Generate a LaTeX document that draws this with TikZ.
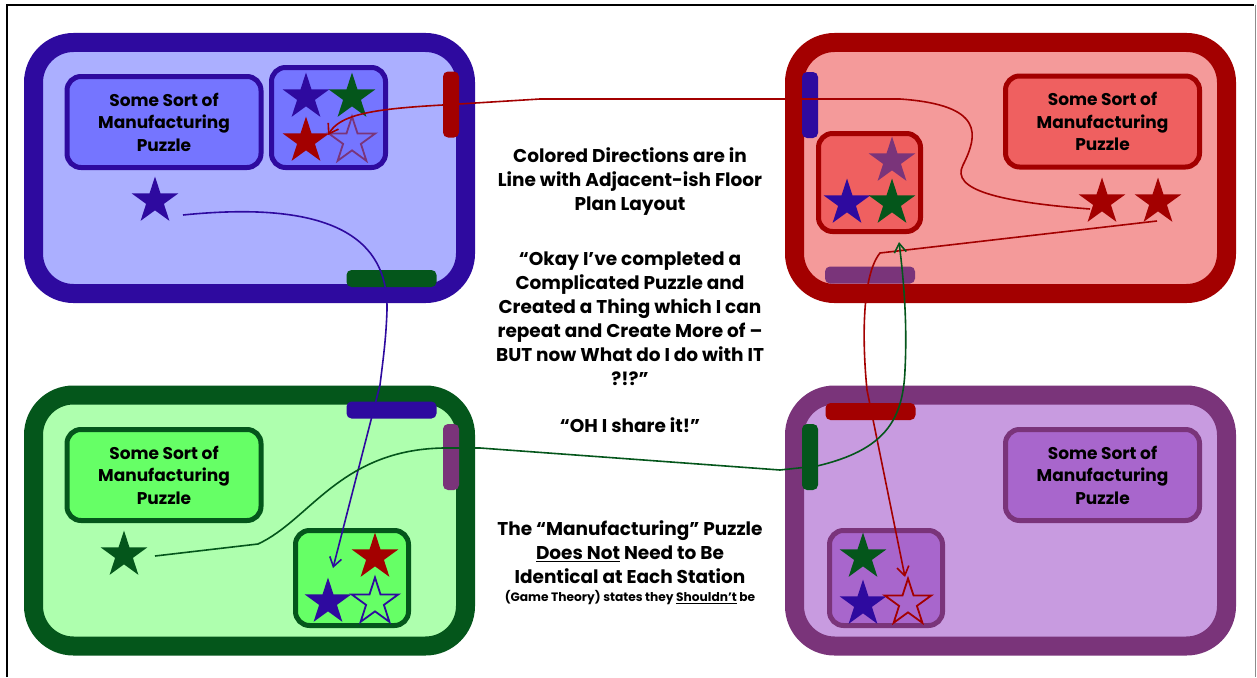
\documentclass[tikz,border=0pt]{standalone}
\usepackage{fontspec}
\setmainfont{Poppins}
\usetikzlibrary{shapes.geometric,arrows.meta}
\definecolor{bdk}{HTML}{2E0A9F}
\definecolor{blt}{HTML}{ABAFFF}
\definecolor{bbx}{HTML}{7575FF}
\definecolor{rdk}{HTML}{A30000}
\definecolor{rlt}{HTML}{F49A9A}
\definecolor{rbx}{HTML}{EF6060}
\definecolor{gdk}{HTML}{04561B}
\definecolor{glt}{HTML}{AEFFAE}
\definecolor{gbx}{HTML}{66FF66}
\definecolor{pdk}{HTML}{7A347A}
\definecolor{plt}{HTML}{C89BE0}
\definecolor{pbx}{HTML}{A866CC}
\tikzset{
  panel/.style={draw=#1, line width=19pt, rounded corners=40pt, minimum width=432pt, minimum height=251pt, inner sep=0pt},
  pbox/.style={draw=#1, line width=5pt, rounded corners=14pt, inner sep=0pt},
  puz/.style={pbox=#1, minimum width=194pt, minimum height=91pt, align=center, font=\bfseries\fontsize{17}{22.5}\selectfont},
  bar/.style={fill=#1, rounded corners=5pt, inner sep=0pt},
  vbar/.style={bar=#1, minimum width=16pt, minimum height=66pt},
  hbar/.style={bar=#1, minimum width=90pt, minimum height=17pt},
  st/.style={star, star points=5, star point ratio=2.618, minimum size=49pt, inner sep=0pt, fill=#1},
  ost/.style={star, star points=5, star point ratio=2.618, minimum size=49pt, inner sep=0pt, draw=#1, line width=1.8pt},
  conn/.style={draw=#1, line width=1.6pt, -{Straight Barb[length=9pt,width=12pt]}},
  txt/.style={align=center, font=\bfseries\fontsize{18.5}{24}\selectfont},
}
\begin{document}
\begin{tikzpicture}[x=1pt,y=-1pt]
\useasboundingbox (0,0) rectangle (1257,677);
\fill[white] (0,0) rectangle (1257,677);
\draw[black, line width=1.5pt] (7,677) -- (7,5) -- (1254,5);
\draw[black!45, line width=1pt] (1255.5,5) -- (1255.5,677);

% panels
\node[panel=bdk, fill=blt] (tl) at (249.5,168) {};
\node[panel=rdk, fill=rlt] (tr) at (1010.5,168) {};
\node[panel=gdk, fill=glt] (bl) at (249.5,520.5) {};
\node[panel=pdk, fill=plt] (br) at (1010.5,520.5) {};

% puzzle boxes
\node[puz=bdk, fill=bbx] (tlpuz) at (164,122) {Some Sort of\\Manufacturing\\Puzzle};
\node[puz=rdk, fill=rbx] (trpuz) at (1102.5,121.5) {Some Sort of\\Manufacturing\\Puzzle};
\node[puz=gdk, fill=gbx] (blpuz) at (164,475) {Some Sort of\\Manufacturing\\Puzzle};
\node[puz=pdk, fill=pbx] (brpuz) at (1102.5,475) {Some Sort of\\Manufacturing\\Puzzle};

% star boxes
\node[pbox=bdk, fill=bbx, minimum width=114pt, minimum height=100pt] (tlbox) at (328.5,117.5) {};
\node[pbox=rdk, fill=rbx, minimum width=102pt, minimum height=98pt] (trbox) at (869.5,182.5) {};
\node[pbox=gdk, fill=gbx, minimum width=113pt, minimum height=95pt] (blbox) at (352,578) {};
\node[pbox=pdk, fill=pbx, minimum width=113pt, minimum height=95pt] (brbox) at (886,578) {};

% doors
\node[vbar=rdk] (tlred) at (451,104.5) {};
\node[hbar=gdk] (tlgreen) at (391.5,278.5) {};
\node[vbar=bdk] (trblue) at (810,105) {};
\node[hbar=pdk] (trpurple) at (870,275) {};
\node[hbar=bdk] (blblue) at (391.5,410) {};
\node[vbar=pdk] (blpurple) at (451,457) {};
\node[hbar=rdk] (brred) at (870.5,411.5) {};
\node[vbar=gdk] (brgreen) at (810,457) {};

% stars: top left
\node[st=bdk] (tls1) at (306,97) {};
\node[st=gdk] (tls2) at (352,97) {};
\node[st=rdk] (tls3) at (306,141) {};
\node[ost=pdk] (tls4) at (352,141) {};
\node[st=bdk] (tlloose) at (155,201) {};
% top right
\node[st=pdk] (trs1) at (892,161) {};
\node[st=bdk] (trs2) at (847,203) {};
\node[st=gdk] (trs3) at (892,203) {};
\node[st=rdk] (trloose1) at (1102,202) {};
\node[st=rdk] (trloose2) at (1158,202) {};
% bottom left
\node[st=rdk] (bls1) at (375,557) {};
\node[st=bdk] (bls2) at (328,602) {};
\node[ost=bdk] (bls3) at (375,602) {};
\node[st=gdk] (blloose) at (124,555) {};
% bottom right
\node[st=gdk] (brs1) at (863,557) {};
\node[st=bdk] (brs2) at (863,604) {};
\node[ost=rdk] (brs3) at (908,603) {};

% connector ends
\coordinate (b0) at (183,215);
\coordinate (b1) at (333,568);
\coordinate (r0) at (1090,209);
\coordinate (r1) at (328,135);
\coordinate (q0) at (1157,221);
\coordinate (q1) at (905,577);
\coordinate (g0) at (155,556);
\coordinate (g1) at (899,242);

\draw[conn=bdk] (b0) .. controls (350,198) and (388,250) .. (387,310)
  .. controls (386,340) and (383,360) .. (380,385) -- (b1);
\draw[conn=rdk] (r0) .. controls (1000,202) and (950,190) .. (963,165)
  .. controls (978,135) and (985,105) .. (900,99) -- (540,99) -- (443,105)
  .. controls (370,109) and (340,115) .. (r1);
\draw[conn=rdk] (q0) -- (880,253) .. controls (862,275) and (862,340) .. (867,390) -- (q1);
\draw[conn=gdk] (g0) -- (258,544) .. controls (310,520) and (340,450) .. (443,448)
  -- (480,448) -- (780,470) -- (817,466)
  .. controls (885,450) and (903,420) .. (905,370)
  .. controls (907,330) and (905,290) .. (g1);

% centre text
\node[txt] (t1) at (630,182) {Colored Directions are in\\Line with Adjacent-ish Floor\\Plan Layout};
\node[txt] (t2) at (630,319) {“Okay I’ve completed a\\Complicated Puzzle and\\Created a Thing which I can\\repeat and Create More of –\\BUT now What do I do with IT\\?!?”};
\node[txt] (t3) at (630,425) {“OH I share it!”};
\node[txt] (t4) at (630,552) {The “Manufacturing” Puzzle\\\underline{Does Not} Need to Be\\Identical at Each Station};
\node[align=center, font=\bfseries\fontsize{12.2}{14}\selectfont] (t5) at (630,598) {(Game Theory) states they \underline{Shouldn’t} be};
\end{tikzpicture}
\end{document}
